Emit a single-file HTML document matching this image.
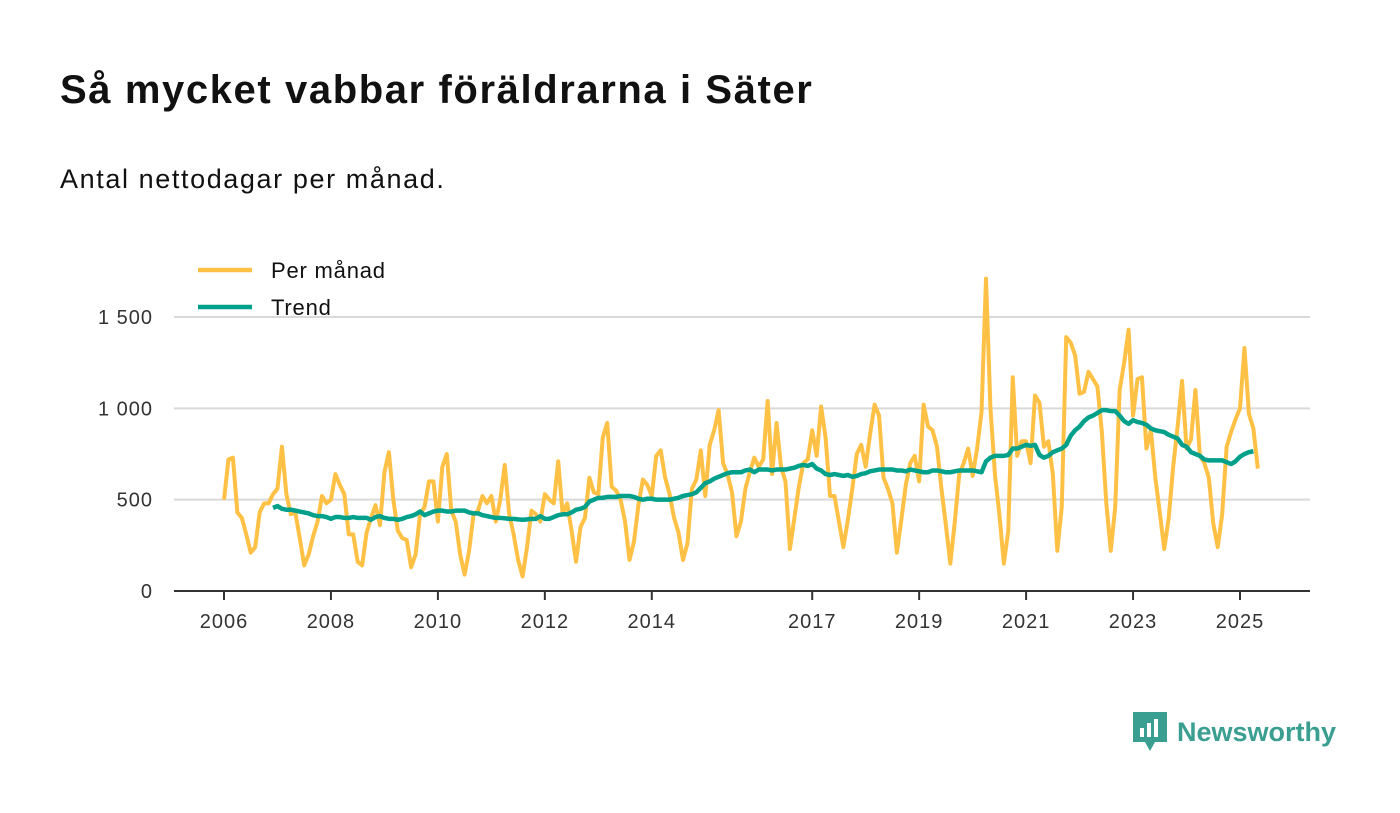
<!DOCTYPE html>
<html><head><meta charset="utf-8"><style>
body{margin:0;background:#fff;font-family:"Liberation Sans","DejaVu Sans",sans-serif;}
#wrap{position:relative;width:1400px;height:813px;overflow:hidden;}
h1{position:absolute;left:60px;top:68px;margin:0;font-size:40px;font-weight:bold;color:#111;letter-spacing:1.6px;}
.sub{position:absolute;left:60px;top:164px;font-size:27px;color:#111;letter-spacing:1.6px;}
</style></head><body><div id="wrap">
<h1>Så mycket vabbar föräldrarna i Säter</h1>
<div class="sub">Antal nettodagar per månad.</div>
<svg id="chart" width="1400" height="813" style="position:absolute;left:0;top:0"></svg>
</div>
<script>
const monthly=[
500,720,730,430,400,310,210,240,430,480,480,530,
560,790,530,420,430,290,140,200,300,380,520,480,
500,640,580,530,310,310,160,140,320,400,470,360,
650,760,500,330,290,280,130,200,420,460,600,600,
380,680,750,440,380,200,90,220,420,440,520,480,
520,380,500,690,420,310,170,80,240,440,420,380,
530,500,480,710,420,480,330,160,350,400,620,540,
530,840,920,570,550,500,380,170,270,470,610,580,
520,740,770,620,530,400,320,170,260,560,610,770,
520,800,880,990,700,640,540,300,380,560,650,730,
680,720,1040,640,920,680,600,230,400,570,700,720,
880,740,1010,840,520,520,380,240,390,560,750,800,
680,860,1020,960,620,560,480,210,390,580,700,740,
600,1020,900,880,790,560,360,150,380,640,700,780,
630,780,980,1710,1000,640,420,150,330,1170,740,820,
820,700,1070,1030,790,820,640,220,460,1390,1360,1290,
1080,1090,1200,1160,1120,870,480,220,460,1100,1250,1430,
960,1160,1170,780,880,620,430,230,400,680,900,1150,
780,830,1100,740,700,620,370,240,420,790,870,940,
1000,1330,970,890,670];
const trend=[
455,465,450,445,445,440,435,430,425,415,410,410,
405,395,405,405,400,400,405,400,400,400,390,405,
410,400,395,395,390,395,405,410,420,435,415,425,
435,440,440,435,435,440,440,440,430,425,425,415,
410,405,400,400,398,395,395,392,390,392,395,395,
410,395,395,405,415,420,420,430,445,450,460,490,
500,510,510,515,515,515,520,520,520,515,505,500,
505,505,500,500,500,500,505,510,520,525,530,540,
565,590,600,615,625,635,645,650,650,650,660,665,
650,665,665,665,660,665,665,665,670,675,685,690,
685,695,670,660,640,635,640,635,630,635,625,630,
640,645,655,660,665,665,665,665,660,660,655,665,
660,655,650,650,660,660,655,650,650,655,660,660,
660,660,655,650,710,730,740,740,740,745,780,780,
790,800,795,800,745,730,740,760,770,780,800,850,
880,900,930,950,960,975,990,990,985,985,960,930,
915,935,925,920,910,890,880,875,870,855,845,835,
800,790,760,750,740,720,715,715,715,715,705,695,
710,735,750,760,765];
const trendStart=11;
const yTicks=[0,500,1000,1500];
const yTickLabels=["0","500","1 000","1 500"];
const xTickYears=[2006,2008,2010,2012,2014,2017,2019,2021,2023,2025];

const svg=document.getElementById('chart');
const NS='http://www.w3.org/2000/svg';
const x=m=>224+m*(1240-224)/228;
const y=v=>591-v*(591-317)/1500;
function mk(t,a){const e=document.createElementNS(NS,t);for(const k in a)e.setAttribute(k,a[k]);svg.appendChild(e);return e;}
yTicks.forEach((v,i)=>{
 if(v>0){const g=mk('line',{x1:174,x2:1310,y1:y(v),y2:y(v),stroke:'#d9d9d9','stroke-width':2});
 
 }
 const t=mk('text',{x:153,y:y(v)+7,'text-anchor':'end','font-size':20,fill:'#333','letter-spacing':1,'font-family':'Liberation Sans, DejaVu Sans, sans-serif'});
 t.textContent=yTickLabels[i];
 
 
});
const ax=mk('line',{x1:174,x2:1310,y1:591,y2:591,stroke:'#333','stroke-width':2});


xTickYears.forEach(yr=>{
 const xx=x((yr-2006)*12);
 const tk=mk('line',{x1:xx,x2:xx,y1:591,y2:600,stroke:'#333','stroke-width':2});
 
 
 const t=mk('text',{x:xx,y:628,'text-anchor':'middle','font-size':20,fill:'#333','letter-spacing':1,'font-family':'Liberation Sans, DejaVu Sans, sans-serif'});
 t.textContent=yr;
 
 
});
const p1=mk('polyline',{points:monthly.map((v,i)=>x(i)+','+y(v)).join(' '),fill:'none',stroke:'#FFC145','stroke-width':4,'stroke-linejoin':'round'});


const p2=mk('polyline',{points:trend.map((v,i)=>x(i+trendStart)+','+y(v)).join(' '),fill:'none',stroke:'#00A08A','stroke-width':4.5,'stroke-linejoin':'round'});


[['Per månad','#FFC145',270],['Trend','#00A08A',307]].forEach(([n,c,yy])=>{
 const l=mk('line',{x1:198,x2:252,y1:yy,y2:yy,stroke:c,'stroke-width':4.5});
 
 
 const t=mk('text',{x:271,y:yy+8,'font-size':22,fill:'#111','letter-spacing':0.8,'font-family':'Liberation Sans, DejaVu Sans, sans-serif'});
 t.textContent=n;
 
 
});
</script>
<div style="position:absolute;left:1133px;top:712px;display:flex;align-items:center;">
<svg width="34" height="40" viewBox="0 0 34 40"><path d="M0 0H34V30H22L17 39L12 30H0Z" fill="#3a9e91"/><rect x="7" y="16" width="4" height="9" fill="#fff"/><rect x="14" y="11" width="4" height="14" fill="#fff"/><rect x="21" y="7" width="4" height="18" fill="#fff"/></svg>
<span style="margin-left:10px;font-size:27px;font-weight:bold;color:#3a9e91;">Newsworthy</span></div>
</body></html>
